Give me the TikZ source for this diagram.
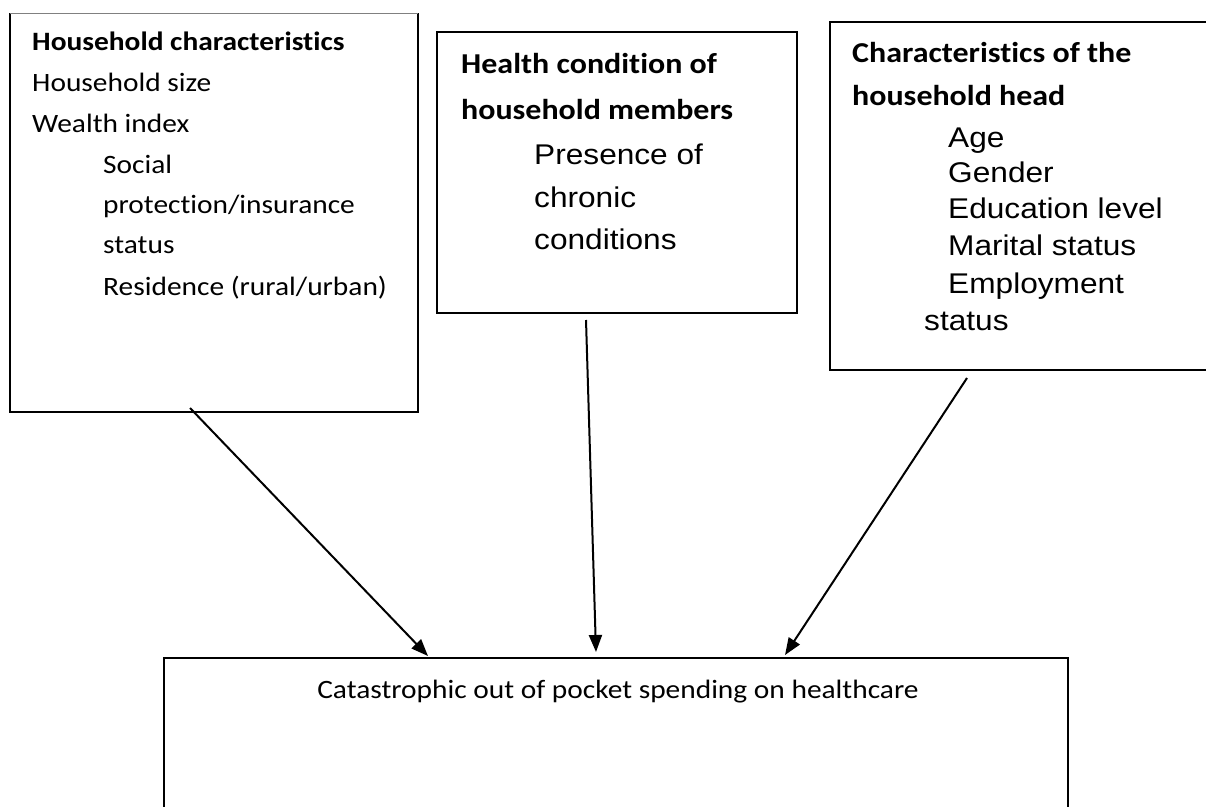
\documentclass[tikz,border=0pt]{standalone}
\usepackage{fontspec}
\setmainfont{Carlito}[FakeStretch=1.11,Ligatures=CommonOff]
\newfontfamily\arialf{Liberation Sans}[FakeStretch=1.11]
\usetikzlibrary{arrows.meta}
\begin{document}
\begin{tikzpicture}[x=1pt,y=-1pt,
  box/.style={draw, line width=2.2pt, inner sep=0pt, outer sep=0pt, anchor=north west},
  hd/.style={anchor=base west, inner sep=0pt, font=\fontsize{26.5}{30}\selectfont\bfseries},
  hdb/.style={anchor=base west, inner sep=0pt, font=\fontsize{28.8}{32}\selectfont\bfseries},
  cb/.style={anchor=base west, inner sep=0pt, font=\fontsize{26.5}{30}\selectfont},
  ar/.style={anchor=base west, inner sep=0pt, font=\arialf\fontsize{28.5}{34}\selectfont},
  arr/.style={line width=2pt, -{Triangle[length=17pt,width=13pt]}}]
\clip (0,0) rectangle (1206,806);
% boxes
\node[box, draw=none, minimum width=408pt, minimum height=399pt] (hh) at (10,13) {};
\draw[line width=2.2pt] (hh.north west) -- (hh.south west) -- (hh.south east) -- (hh.north east);
\draw[line width=0.8pt, gray] (hh.north west) -- (hh.north east);
\node[box, minimum width=360pt, minimum height=281pt] (hc) at (437,32) {};
\node[box, minimum width=420pt, minimum height=348pt] (head) at (830,22) {};
\node[box, minimum width=904pt, minimum height=200pt] (out) at (164,658) {};
% left box text
\node[hd] (t11) at (32,50) {Household characteristics};
\node[cb] (t12) at (32,91) {Household size};
\node[cb] (t13) at (32,132) {Wealth index};
\node[cb] (t14) at (103,173) {Social};
\node[cb] (t15) at (103,213) {protection/insurance};
\node[cb] (t16) at (103,253) {status};
\node[cb] (t17) at (103,295) {Residence (rural/urban)};
% middle box text
\node[hdb] (t21) at (461,73) {Health condition of};
\node[hdb] (t22) at (461,119) {household members};
\node[ar] (t23) at (534,164) {Presence of};
\node[ar] (t24) at (534,207) {chronic};
\node[ar] (t25) at (534,249) {conditions};
% right box text
\node[hdb] (t31) at (852,62) {Characteristics of the};
\node[hdb] (t32) at (852,105) {household head};
\node[ar] (t33) at (948,147) {Age};
\node[ar] (t34) at (948,182) {Gender};
\node[ar] (t35) at (948,218) {Education level};
\node[ar] (t36) at (948,255) {Marital status};
\node[ar] (t37) at (948,293) {Employment};
\node[ar] (t38) at (924,330) {status};
% outcome text
\node[anchor=base, inner sep=0pt, font=\fontsize{26.5}{30}\selectfont] (t41) at (618,698) {Catastrophic out of pocket spending on healthcare};
% connectors
\coordinate (a1s) at (190,408);
\coordinate (a1e) at (428,656);
\coordinate (a2s) at (586,320);
\coordinate (a2e) at (596,652);
\coordinate (a3s) at (967,378);
\coordinate (a3e) at (785,655);
\draw[arr] (a1s) -- (a1e);
\draw[arr] (a2s) -- (a2e);
\draw[arr] (a3s) -- (a3e);
\end{tikzpicture}
\end{document}
